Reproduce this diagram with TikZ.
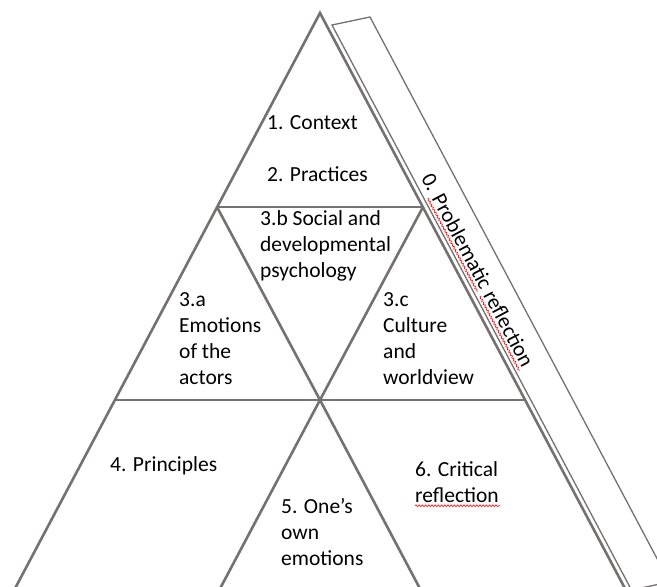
\documentclass[tikz,border=0pt]{standalone}
\usepackage{fontspec}
\setmainfont{Carlito}
\usetikzlibrary{calc,decorations.pathmorphing}
\definecolor{lg}{RGB}{118,113,113}
\tikzset{
  thickline/.style={draw=lg, line width=2.6pt},
  thinline/.style={draw=lg, line width=1.3pt, line join=miter},
  lbl/.style={font=\fontsize{21.5}{26}\selectfont, inner sep=0pt, align=left, anchor=west, text=black},
  squig/.style={draw=red, line width=0.6pt, decorate, decoration={snake, segment length=3.2pt, amplitude=0.9pt}}
}
\begin{document}
\begin{tikzpicture}[x=1pt,y=-1pt]
\useasboundingbox (0,0) rectangle (657,587);
\fill[white] (0,0) rectangle (657,587);
\clip (0,0) rectangle (657,587);
% triangle coordinates
\coordinate (A) at (320,13);
\coordinate (L1) at (217,207);
\coordinate (R1) at (423,207);
\coordinate (L2) at (115,400);
\coordinate (M) at (320,400);
\coordinate (R2) at (525,400);
\coordinate (L3) at (8.9,600);
\coordinate (B1) at (214,600);
\coordinate (B2) at (426,600);
\coordinate (R3) at (631.1,600);
% band
\coordinate (TL) at (332,25);
\coordinate (TR) at (370,17);
\coordinate (BR) at (669.45,582);
\coordinate (BL) at (631.45,590);
\draw[thinline] (TL) -- (TR) -- (BR) -- (BL) -- cycle;
% triangle lines
\draw[thickline] (L3) -- (A) -- (R3);
\draw[thickline] (L1) -- (R1);
\draw[thickline] (L2) -- (R2);
\draw[thickline] (L1) -- (M) -- (R1);
\draw[thickline] (B1) -- (M) -- (B2);
% labels
\node[lbl] (t1) at (267,123) {1. Context};
\node[lbl] (t2) at (267,174) {2. Practices};
\node[lbl] (t3b) at (260,246) {3.b Social and\\developmental\\psychology};
\node[lbl] (t3a) at (179,339) {3.a\\Emotions\\of the\\actors};
\node[lbl] (t3c) at (383,339) {3.c\\Culture\\and\\worldview};
\node[lbl] (t4) at (110,466) {4. Principles};
\node[lbl] (t5) at (281,532) {5. One’s\\own\\emotions};
\node[lbl] (t6) at (415,482) {6. Critical\\reflection};
\node[lbl, anchor=center, rotate=-62] (t0) at (478,270) {0. Problematic reflection};
% spell-check squiggles
\draw[squig] ($(t6.south west)+(0,3)$) -- ++(85,0);
\draw[squig] ($(t0.south west)!0.098!(t0.south east)+(-2.6,1.4)$) -- ($(t0.south west)!0.587!(t0.south east)+(-2.6,1.4)$);
\draw[squig] ($(t0.south west)!0.61!(t0.south east)+(-2.6,1.4)$) -- ($(t0.south west)!1!(t0.south east)+(-2.6,1.4)$);
\end{tikzpicture}
\end{document}
